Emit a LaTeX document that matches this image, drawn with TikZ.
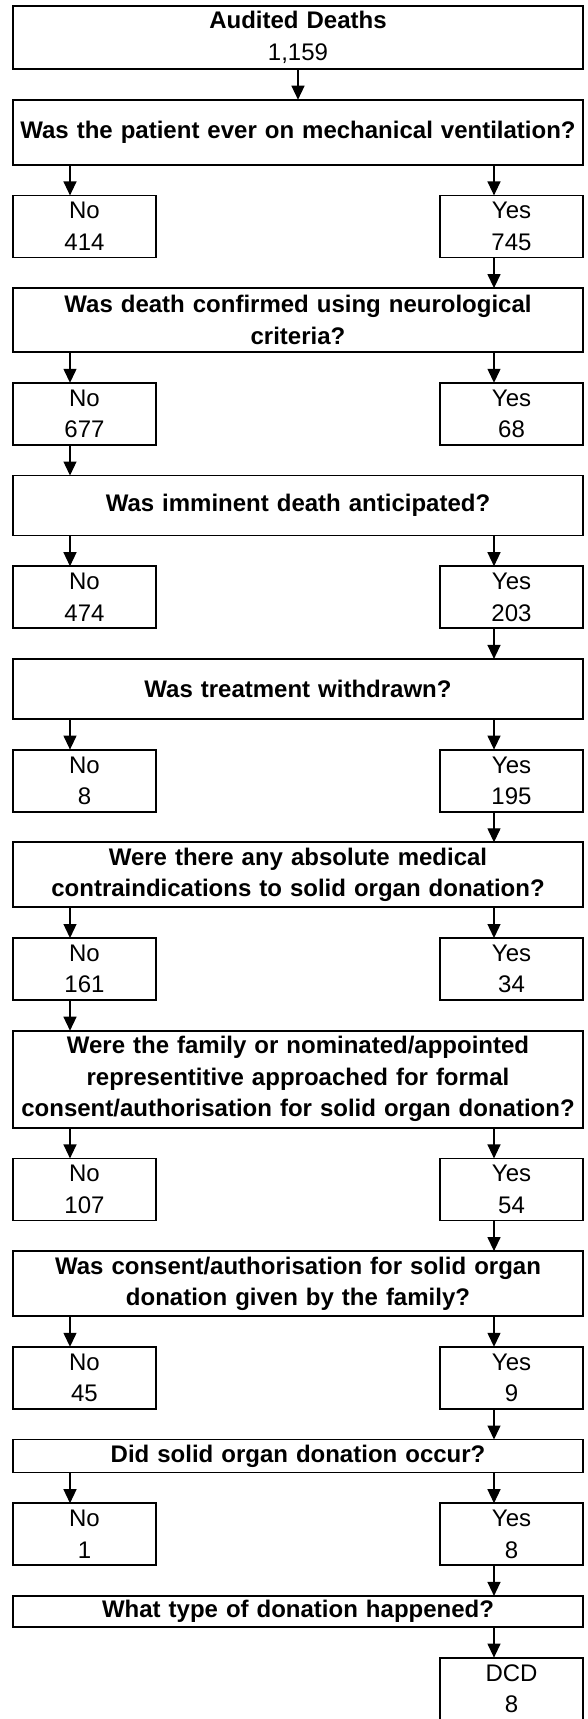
\documentclass[tikz,border=0pt]{standalone}
\usepackage{fontspec}
\setmainfont{Liberation Sans}
\usepackage{tikz}
\usetikzlibrary{arrows.meta, positioning}
\tikzset{
	qbox/.style={rectangle, draw=black, line width=0.9pt, minimum width=285pt, text width=285pt, inner sep=0pt, outer sep=0pt, align=center, font=\bfseries\fontsize{12}{15.75}\selectfont},
	abox/.style={rectangle, draw=black, line width=0.9pt, minimum width=71.5pt, minimum height=31pt, inner sep=0pt, outer sep=0pt, align=center, font=\fontsize{12}{15.75}\selectfont},
	flowarrow/.style={-{Triangle[length=7pt, width=6.5pt]}, line width=0.65pt},
}

\begin{document}
\begin{tikzpicture}[node distance=15.35pt]
	\useasboundingbox (0,0) rectangle (294pt,-859.5pt);
	% arrow columns
	\coordinate (xl) at (35pt,0);
	\coordinate (xr) at (247pt,0);
	\node[qbox, minimum height=31.5pt, anchor=north west] (aud) at (6.5pt,-3pt) {Audited Deaths\\ \mdseries 1,159};
	\node[qbox, minimum height=32.5pt, below=of aud] (q1) {Was the patient ever on mechanical ventilation?};
	\node[abox, below right=15.35pt and 0pt of q1.south west] (n1) {No\\414};
	\node[abox, below left=15.35pt and 0pt of q1.south east] (y1) {Yes\\745};
	\node[qbox, minimum height=32pt, below right=15.35pt and 0pt of n1.south west] (q2) {Was death confirmed using neurological\\criteria?};
	\node[abox, below right=15.35pt and 0pt of q2.south west] (n2) {No\\677};
	\node[abox, below left=15.35pt and 0pt of q2.south east] (y2) {Yes\\68};
	\node[qbox, minimum height=30pt, below right=15.35pt and 0pt of n2.south west] (q3) {Was imminent death anticipated?};
	\node[abox, below right=15.35pt and 0pt of q3.south west] (n3) {No\\474};
	\node[abox, below left=15.35pt and 0pt of q3.south east] (y3) {Yes\\203};
	\node[qbox, minimum height=30pt, below right=15.35pt and 0pt of n3.south west] (q4) {Was treatment withdrawn?};
	\node[abox, below right=15.35pt and 0pt of q4.south west] (n4) {No\\8};
	\node[abox, below left=15.35pt and 0pt of q4.south east] (y4) {Yes\\195};
	\node[qbox, minimum height=32.5pt, below right=15.35pt and 0pt of n4.south west] (q5) {Were there any absolute medical\\contraindications to solid organ donation?};
	\node[abox, below right=15.35pt and 0pt of q5.south west] (n5) {No\\161};
	\node[abox, below left=15.35pt and 0pt of q5.south east] (y5) {Yes\\34};
	\node[qbox, minimum height=48.5pt, below right=15.35pt and 0pt of n5.south west] (q6) {Were the family or nominated/appointed\\representitive approached for formal\\consent/authorisation for solid organ donation?};
	\node[abox, below right=15.35pt and 0pt of q6.south west] (n6) {No\\107};
	\node[abox, below left=15.35pt and 0pt of q6.south east] (y6) {Yes\\54};
	\node[qbox, minimum height=32.5pt, below right=15.35pt and 0pt of n6.south west] (q7) {Was consent/authorisation for solid organ\\donation given by the family?};
	\node[abox, below right=15.35pt and 0pt of q7.south west] (n7) {No\\45};
	\node[abox, below left=15.35pt and 0pt of q7.south east] (y7) {Yes\\9};
	\node[qbox, minimum height=16.5pt, below right=15.35pt and 0pt of n7.south west] (q8) {Did solid organ donation occur?};
	\node[abox, below right=15.35pt and 0pt of q8.south west] (n8) {No\\1};
	\node[abox, below left=15.35pt and 0pt of q8.south east] (y8) {Yes\\8};
	\node[qbox, minimum height=15.5pt, below right=15.35pt and 0pt of n8.south west] (q9) {What type of donation happened?};
	\node[abox, below left=15.35pt and 0pt of q9.south east] (dcd) {DCD\\8};
	% connectors
	\draw[flowarrow] (aud) -- (q1);
	\foreach \q/\n/\y in {q1/n1/y1, q2/n2/y2, q3/n3/y3, q4/n4/y4, q5/n5/y5, q6/n6/y6, q7/n7/y7, q8/n8/y8} {
		\draw[flowarrow] (\q.south -| xl) -- (\n.north -| xl);
		\draw[flowarrow] (\q.south -| xr) -- (\y.north -| xr);
	}
	\draw[flowarrow] (y1.south -| xr) -- (q2.north -| xr);
	\draw[flowarrow] (n2.south -| xl) -- (q3.north -| xl);
	\draw[flowarrow] (y3.south -| xr) -- (q4.north -| xr);
	\draw[flowarrow] (y4.south -| xr) -- (q5.north -| xr);
	\draw[flowarrow] (n5.south -| xl) -- (q6.north -| xl);
	\draw[flowarrow] (y6.south -| xr) -- (q7.north -| xr);
	\draw[flowarrow] (y7.south -| xr) -- (q8.north -| xr);
	\draw[flowarrow] (y8.south -| xr) -- (q9.north -| xr);
	\draw[flowarrow] (q9.south -| xr) -- (dcd.north -| xr);
\end{tikzpicture}
\end{document}
